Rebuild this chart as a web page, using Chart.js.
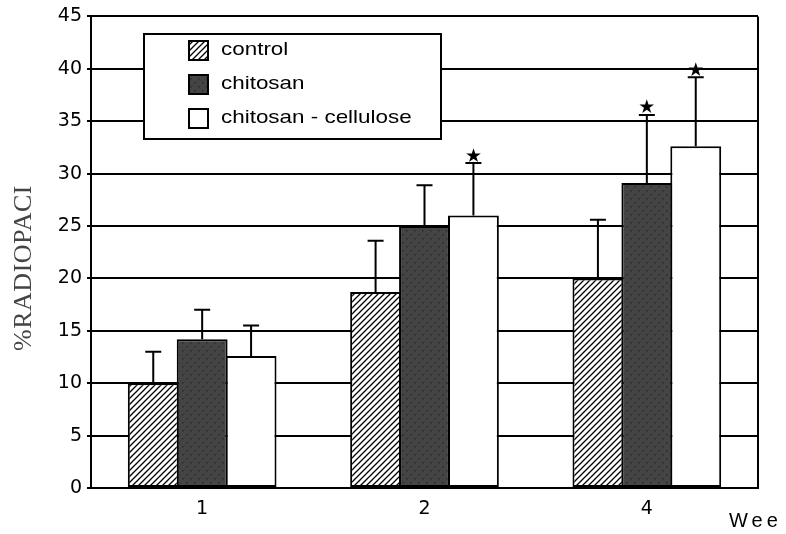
<!DOCTYPE html>
<html>
<head>
<meta charset="utf-8">
<script src="https://cdn.jsdelivr.net/npm/chart.js@4"></script>
<style>
  html, body { margin: 0; padding: 0; background: #fff; }
  #wrap { width: 786px; height: 534px; position: relative; }
</style>
</head>
<body>
<div id="wrap"><canvas id="radioChart"></canvas></div>
<script>
// ========================================
// Data
// ========================================
const weeks = ['1', '2', '4'];
const seriesNames = ['control', 'chitosan', 'chitosan - cellulose'];
const controlMeans = [10.0, 18.7, 20.0];
const controlSD = [3.0, 4.9, 5.6];
const chitosanMeans = [14.2, 25.0, 29.1];
const chitosanSD = [2.8, 3.9, 6.5];
const celluloseMeans = [12.6, 26.0, 32.6];
const celluloseSD = [2.9, 5.0, 6.6];
const controlStars = [false, false, false];
const chitosanStars = [false, false, true];
const celluloseStars = [false, true, true];
const yTicks = [0, 5, 10, 15, 20, 25, 30, 35, 40, 45];

// ========================================
// Fill patterns
// ========================================
function hatchPattern() {
    const c = document.createElement('canvas');
    c.width = 6; c.height = 6;
    const g = c.getContext('2d');
    g.fillStyle = '#fff';
    g.fillRect(0, 0, 6, 6);
    g.strokeStyle = '#000';
    g.lineWidth = 1.3;
    g.beginPath();
    g.moveTo(0, 6); g.lineTo(6, 0);
    g.moveTo(-1, 1); g.lineTo(1, -1);
    g.moveTo(5, 7); g.lineTo(7, 5);
    g.stroke();
    return g.createPattern(c, 'repeat');
}

function dotPattern() {
    const c = document.createElement('canvas');
    c.width = 8; c.height = 8;
    const g = c.getContext('2d');
    g.fillStyle = '#444';
    g.fillRect(0, 0, 8, 8);
    g.fillStyle = '#2b2b2b';
    g.fillRect(2, 2, 1.5, 1.5);
    g.fillRect(6, 6, 1.5, 1.5);
    return g.createPattern(c, 'repeat');
}

const fills = [hatchPattern(), dotPattern(), '#fff'];
const sds = [controlSD, chitosanSD, celluloseSD];
const stars = [controlStars, chitosanStars, celluloseStars];

// stretched text, the figure is wider than its fonts
function wideText(ctx, text, x, y, sx) {
    ctx.save();
    ctx.translate(x, y);
    ctx.scale(sx, 1);
    ctx.fillText(text, 0, 0);
    ctx.restore();
}

// ========================================
// Plugins: frame, error bars, legend box, axis labels
// ========================================
const framePlugin = {
    id: 'frame',
    beforeDatasetsDraw(chart) {
        const { ctx, chartArea: a } = chart;
        ctx.save();
        ctx.strokeStyle = '#000';
        ctx.lineWidth = 2;
        ctx.beginPath();
        ctx.moveTo(a.right, a.top);
        ctx.lineTo(a.right, a.bottom);
        ctx.stroke();
        ctx.restore();
    }
};

const errorPlugin = {
    id: 'errorBars',
    afterDatasetsDraw(chart) {
        const { ctx } = chart;
        const yScale = chart.scales.y;
        ctx.save();
        ctx.strokeStyle = '#000';
        ctx.fillStyle = '#000';
        ctx.lineWidth = 2;
        chart.data.datasets.forEach((ds, i) => {
            const meta = chart.getDatasetMeta(i);
            meta.data.forEach((bar, j) => {
                const top = yScale.getPixelForValue(ds.data[j] + sds[i][j]);
                ctx.beginPath();
                ctx.moveTo(bar.x, bar.y);
                ctx.lineTo(bar.x, top);
                ctx.moveTo(bar.x - 8, top);
                ctx.lineTo(bar.x + 8, top);
                ctx.stroke();
                if (stars[i][j]) {
                    ctx.font = '19px "DejaVu Sans"';
                    ctx.textAlign = 'center';
                    ctx.textBaseline = 'bottom';
                    ctx.fillText('\u2605', bar.x, top + 3);
                }
            });
        });
        ctx.restore();
    }
};

const legendPlugin = {
    id: 'legendBox',
    afterDatasetsDraw(chart) {
        const { ctx } = chart;
        ctx.save();
        ctx.fillStyle = '#fff';
        ctx.fillRect(144, 34, 297, 105);
        ctx.strokeStyle = '#000';
        ctx.lineWidth = 2;
        ctx.strokeRect(144, 34, 297, 105);
        ctx.font = '19px "Liberation Sans", Arial';
        ctx.textBaseline = 'middle';
        ctx.textAlign = 'left';
        const rows = [50, 84, 118];
        seriesNames.forEach((name, i) => {
            ctx.fillStyle = fills[i];
            ctx.fillRect(189, rows[i] - 9, 19, 19);
            ctx.strokeStyle = '#000';
            ctx.lineWidth = 2;
            ctx.strokeRect(189, rows[i] - 9, 19, 19);
            ctx.fillStyle = '#000';
            wideText(ctx, name, 221, rows[i], 1.18);
        });
        ctx.restore();
    }
};

const axisLabelPlugin = {
    id: 'axisLabels',
    afterDraw(chart) {
        const { ctx } = chart;
        ctx.save();
        ctx.fillStyle = '#000';
        ctx.textBaseline = 'middle';
        ctx.textAlign = 'left';
        ctx.font = '20px "Liberation Sans", Arial';
        ctx.letterSpacing = '4px';
        ctx.fillText('Wee', 729, 521);

        ctx.fillStyle = '#444';
        ctx.font = '26px "Liberation Serif", "Times New Roman", serif';
        ctx.letterSpacing = '0.5px';
        ctx.textAlign = 'center';
        ctx.translate(24, 268);
        ctx.rotate(-Math.PI / 2);
        ctx.fillText('%RADIOPACI', 0, 0);
        ctx.restore();
    }
};

// ========================================
// Chart
// ========================================
Chart.defaults.font.family = '"DejaVu Sans", sans-serif';
Chart.defaults.color = '#000';

new Chart(document.getElementById('radioChart'), {
    type: 'bar',
    data: {
        labels: weeks,
        datasets: [
            { label: seriesNames[0], data: controlMeans, backgroundColor: fills[0] },
            { label: seriesNames[1], data: chitosanMeans, backgroundColor: fills[1] },
            { label: seriesNames[2], data: celluloseMeans, backgroundColor: fills[2] }
        ].map(d => Object.assign(d, { borderColor: '#000', borderWidth: 2, borderSkipped: false }))
    },
    options: {
        responsive: true,
        maintainAspectRatio: false,
        animation: false,
        categoryPercentage: 0.66,
        barPercentage: 1.04,
        layout: { padding: { left: 40, top: 16, right: 28, bottom: 0 } },
        plugins: {
            legend: { display: false },
            tooltip: { enabled: false }
        },
        scales: {
            x: {
                grid: { display: false, drawTicks: false },
                border: { display: true, color: '#000', width: 2 },
                ticks: { font: { size: 19 }, padding: 10 },
                afterFit: s => { s.height = 46; }
            },
            y: {
                min: 0,
                max: 45,
                afterBuildTicks: s => { s.ticks = yTicks.map(v => ({ value: v })); },
                grid: { color: '#000', lineWidth: 2, tickLength: 4 },
                border: { display: true, color: '#000', width: 2 },
                ticks: { font: { size: 19 }, padding: 5 },
                afterFit: s => { s.width = 51; }
            }
        }
    },
    plugins: [framePlugin, errorPlugin, legendPlugin, axisLabelPlugin]
});
</script>
</body>
</html>
